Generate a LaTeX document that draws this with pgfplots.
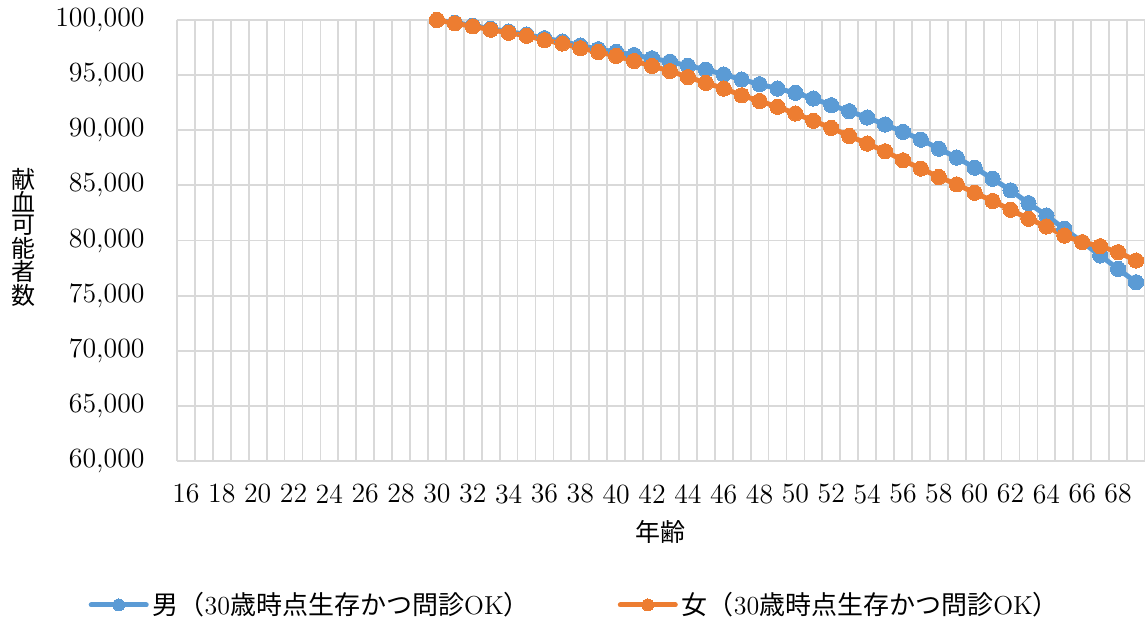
\documentclass[border=0pt]{standalone}
\usepackage{fontspec}
\usepackage{pgfplots}
\pgfplotsset{compat=1.18}
\newfontfamily\cjk{Noto Sans CJK JP}
\definecolor{cblue}{HTML}{5B9BD5}
\definecolor{corange}{HTML}{ED7D31}
\definecolor{cgrid}{HTML}{D9D9D9}
\pgfplotstableread{
x y
30 100000
31 99750
32 99480
33 99200
34 98950
35 98680
36 98350
37 98050
38 97680
39 97350
40 97100
41 96820
42 96520
43 96220
44 95850
45 95500
46 95060
47 94600
48 94170
49 93780
50 93390
51 92880
52 92270
53 91730
54 91150
55 90520
56 89850
57 89150
58 88330
59 87520
60 86600
61 85600
62 84550
63 83390
64 82270
65 81060
66 79850
67 78640
68 77420
69 76210
}\male
\pgfplotstableread{
x y
30 100000
31 99700
32 99420
33 99120
34 98840
35 98570
36 98170
37 97870
38 97440
39 97100
40 96740
41 96280
42 95830
43 95370
44 94820
45 94300
46 93780
47 93170
48 92650
49 92120
50 91520
51 90850
52 90210
53 89480
54 88790
55 88090
56 87270
57 86520
58 85760
59 85090
60 84330
61 83580
62 82790
63 81970
64 81270
65 80450
66 79850
67 79480
68 78940
69 78180
}\female
\newcommand{\leg}[1]{{\cjk #1（}30{\cjk 歳時点生存かつ問診}OK{\cjk ）}}
\begin{document}
\begin{tikzpicture}
\begin{axis}[
  at={(0,0)}, anchor=south west,
  scale only axis, width=484pt, height=220.5pt,
  xmin=15.5, xmax=69.5, ymin=60000, ymax=100000,
  xtick={16,18,...,68},
  minor xtick={15.5,16.5,...,69.5},
  ytick={60000,65000,...,100000},
  xmajorgrids=false, xminorgrids=true, ymajorgrids=true,
  grid style={cgrid, line width=0.9pt},
  minor grid style={cgrid, line width=0.9pt},
  major tick length=0pt, minor tick length=0pt,
  axis line style={draw=none},
  scaled y ticks=false,
  /pgf/number format/assume math mode=true,
  yticklabel={\pgfmathprintnumber[fixed,precision=0,1000 sep={,}]{\tick}},
  xticklabel style={inner sep=0pt, anchor=north, yshift=-11.5pt, font=\fontsize{13.9}{16}\selectfont},
  yticklabel style={inner sep=0pt, anchor=east, xshift=-16pt, font=\fontsize{13.9}{16}\selectfont},
  xlabel={\cjk 年齢},
  xlabel style={at={(axis description cs:0.499,-0.161)}, anchor=center, font=\fontsize{12.5}{14}\selectfont},
  ylabel={\begin{tabular}{@{}c@{}}献\\[-2.2pt]血\\[-2.2pt]可\\[-2.2pt]能\\[-2.2pt]者\\[-2.2pt]数\end{tabular}},
  ylabel style={at={(axis description cs:-0.159,0.501)}, anchor=center, rotate=-90, font=\cjk\fontsize{12}{13}\selectfont},
  legend columns=2,
  legend style={at={(axis description cs:0.412,-0.3265)}, anchor=center, draw=none, fill=none,
    font=\fontsize{13}{15}\selectfont, /tikz/every even column/.append style={column sep=42pt},
    inner sep=0pt},
  legend image code/.code={
    \draw[#1, mark=none, line cap=round] (0pt,0pt) -- (27.5pt,0pt);
    \draw[#1, only marks, mark size=3pt] plot coordinates {(13.75pt,0pt)};
  },
  clip=false,
]
\addplot[cblue, line width=2.5pt, line join=round, mark=*, mark size=3.8pt, mark options={fill=cblue, draw=cblue, line width=0pt}] table[x=x,y=y] {\male};
\addlegendentry{\leg{男}}
\addplot[corange, line width=2.5pt, line join=round, mark=*, mark size=3.8pt, mark options={fill=corange, draw=corange, line width=0pt}] table[x=x,y=y] {\female};
\addlegendentry{\leg{女}}
\end{axis}
\pgfresetboundingbox
\path (-88.5pt,-79.5pt) rectangle (484pt,230.5pt);
\end{tikzpicture}
\end{document}
